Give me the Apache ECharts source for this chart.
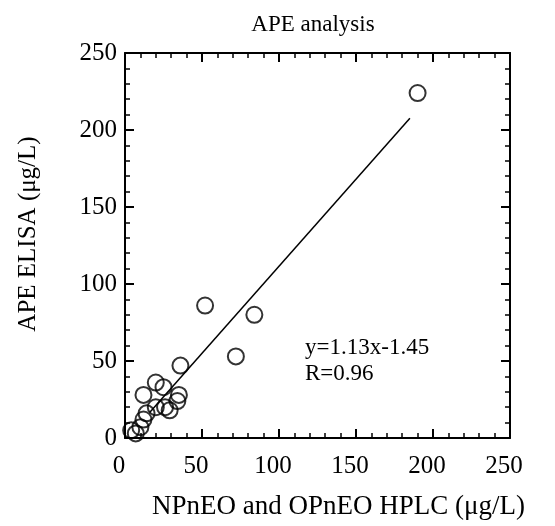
<!DOCTYPE html>
<html>
<head>
<meta charset="utf-8">
<script src="https://cdn.jsdelivr.net/npm/echarts@6/dist/echarts.min.js"></script>
<style>
html, body { margin: 0; padding: 0; background: #fff; }
#main { width: 555px; height: 526px; }
</style>
</head>
<body>
<div id="main"></div>
<script>
// HPLC (x) vs ELISA (y), ug/L
var hplcX = [4, 7, 10, 12, 14, 12, 20, 20, 25, 26, 29, 34, 35, 36, 52, 72, 84, 190];
var elisaY = [5, 3, 7, 12, 16, 28, 20, 36, 33, 20, 18, 24, 28, 47, 86, 53, 80, 224];
var fitX = [16, 185];
var slope = 1.13, intercept = -1.45;

var pts = hplcX.map(function (x, i) { return [x, elisaY[i]]; });
var fitLine = fitX.map(function (x) { return [x, slope * x + intercept]; });

var font = 'Liberation Serif';
var black = '#000';

function makeAxis(pos, showLabel) {
	var isX = pos === 'bottom' || pos === 'top';
	return {
		type: 'value',
		position: pos,
		min: 0,
		max: 250,
		interval: 50,
		axisLine: { show: true, onZero: false, lineStyle: { color: black, width: 2 } },
		axisTick: { show: true, inside: true, length: 9, lineStyle: { color: black, width: 2 } },
		minorTick: { show: true, splitNumber: 5, length: 5, lineStyle: { color: black, width: 1.5 } },
		splitLine: { show: false },
		axisLabel: {
			show: showLabel,
			color: black,
			fontFamily: font,
			fontSize: 25,
			margin: isX ? 16 : 8,
			padding: isX ? [0, 12, 0, 0] : 0
		}
	};
}

var myChart = echarts.init(document.getElementById('main'));
var option = {
	animation: false,
	backgroundColor: '#fff',
	grid: { left: 125, right: 45, top: 53, bottom: 88 },
	xAxis: [
		makeAxis('bottom', true),
		makeAxis('top', false)
	],
	yAxis: [
		makeAxis('left', true),
		makeAxis('right', false)
	],
	series: [{
		type: 'scatter',
		data: pts,
		symbol: 'circle',
		symbolSize: 16,
		itemStyle: { color: 'rgba(0,0,0,0)', borderColor: black, borderWidth: 2 }
	}, {
		type: 'line',
		data: fitLine,
		symbol: 'none',
		lineStyle: { color: black, width: 1.5 }
	}],
	graphic: [
		{ type: 'text', x: 313, y: 25, style: { text: 'APE analysis', font: '23px "Liberation Serif"', fill: black, align: 'center', verticalAlign: 'middle' } },
		{ type: 'text', x: 152, y: 507, style: { text: 'NPnEO and OPnEO HPLC (\u03bcg/L)', font: '27px "Liberation Serif"', fill: black, align: 'left', verticalAlign: 'middle' } },
		{ type: 'text', x: 28, y: 234, rotation: Math.PI / 2, style: { text: 'APE ELISA (\u03bcg/L)', font: '25px "Liberation Serif"', fill: black, align: 'center', verticalAlign: 'middle' } },
		{ type: 'text', x: 305, y: 348, style: { text: 'y=1.13x-1.45', font: '23px "Liberation Serif"', fill: black, verticalAlign: 'middle' } },
		{ type: 'text', x: 305, y: 374, style: { text: 'R=0.96', font: '23px "Liberation Serif"', fill: black, verticalAlign: 'middle' } }
	]
};
myChart.setOption(option);
</script>
</body>
</html>
